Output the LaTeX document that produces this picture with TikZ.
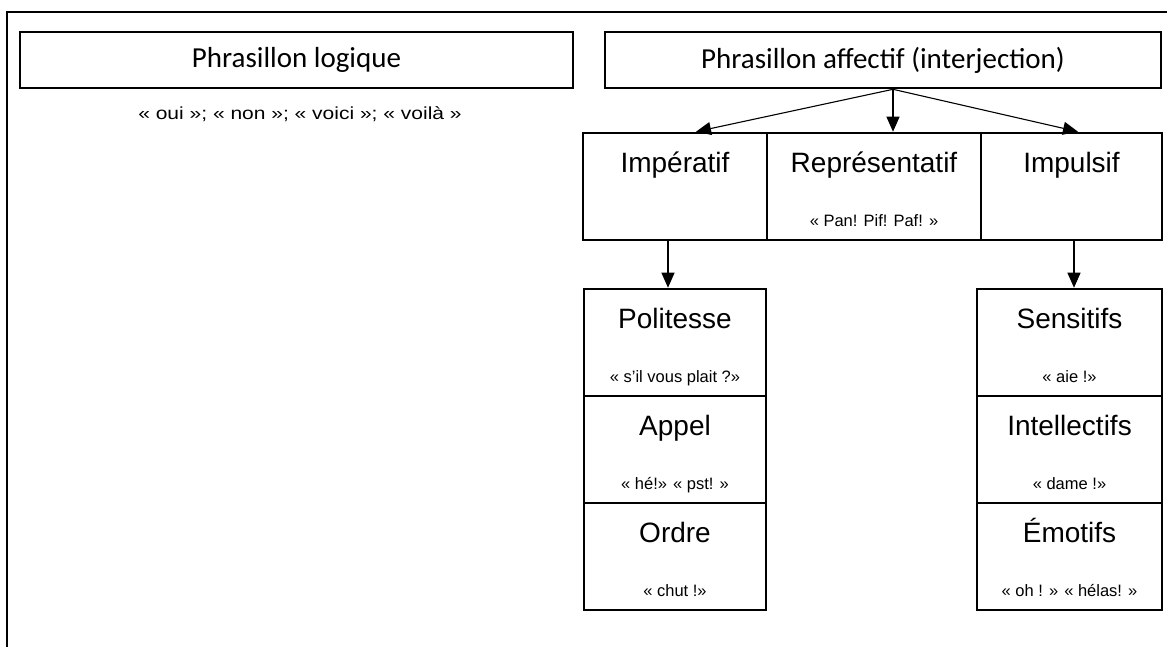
\documentclass[tikz,border=0pt]{standalone}
\usepackage{fontspec}
\usepackage{graphicx}
\setmainfont{Liberation Sans}
\newfontfamily\calibrifont{Carlito}
\usetikzlibrary{arrows.meta}

% text helpers
\newcommand{\headtext}[1]{{\calibrifont\fontsize{29}{33}\selectfont #1}}
\newcommand{\titletext}[1]{{\fontsize{28}{32}\selectfont #1}}
\newcommand{\sampletext}[1]{{\fontsize{16.5}{19}\selectfont #1}}
\newcommand{\listtext}[1]{\scalebox{1.2}[1]{\fontsize{17.5}{20}\selectfont #1}}

\tikzset{
  frame/.style={line width=2.8pt, line cap=rect},
  box/.style={draw, line width=2.6pt, inner sep=0pt, rectangle},
  title/.style={anchor=base, inner sep=0pt},
  arr/.style={line width=1.1pt, -{Triangle[width=13pt,length=15pt]}},
}

\begin{document}
\begin{tikzpicture}[x=1pt,y=-1pt]
\useasboundingbox (0,0) rectangle (1167,646);

% open outer frame
\draw[frame] (1168,12) -- (7,12) -- (7,647);

% heading boxes
\node[box, minimum width=553pt, minimum height=56pt] (log) at (296.5,60) {};
\node[inner sep=0pt] (logT) at (296.5,60) {\headtext{Phrasillon logique}};
\node[title] (logEx) at (300,119) {\listtext{« oui »; « non »; « voici »; « voilà »}};

\node[box, minimum width=556pt, minimum height=56pt] (aff) at (883,60) {};
\node[inner sep=0pt] (affT) at (883,60) {\headtext{Phrasillon affectif (interjection)}};

% second level
\node[box, minimum width=184pt, minimum height=107pt] (imp) at (675,186.5) {};
\node[title] (impT) at (675,172) {\titletext{Impératif}};

\node[box, minimum width=214pt, minimum height=107pt] (rep) at (874,186.5) {};
\node[title] (repT) at (874,172) {\titletext{Représentatif}};
\node[title] (repEx) at (874,226) {\sampletext{« Pan! Pif! Paf! »}};

\node[box, minimum width=181pt, minimum height=107pt] (imu) at (1071.5,186.5) {};
\node[title] (imuT) at (1071.5,172) {\titletext{Impulsif}};

% left column
\node[box, minimum width=182pt, minimum height=107pt] (pol) at (675,342.5) {};
\node[title] (polT) at (675,328) {\titletext{Politesse}};
\node[title] (polEx) at (675,382) {\sampletext{« s’il vous plait ?»}};

\node[box, minimum width=182pt, minimum height=107pt] (app) at (675,449.5) {};
\node[title] (appT) at (675,435) {\titletext{Appel}};
\node[title] (appEx) at (675,489) {\sampletext{« hé!» « pst! »}};

\node[box, minimum width=182pt, minimum height=107pt] (ord) at (675,556.5) {};
\node[title] (ordT) at (675,542) {\titletext{Ordre}};
\node[title] (ordEx) at (675,596) {\sampletext{« chut !»}};

% right column
\node[box, minimum width=185pt, minimum height=107pt] (sen) at (1069.5,342.5) {};
\node[title] (senT) at (1069.5,328) {\titletext{Sensitifs}};
\node[title] (senEx) at (1069.5,382) {\sampletext{« aie !»}};

\node[box, minimum width=185pt, minimum height=107pt] (int) at (1069.5,449.5) {};
\node[title] (intT) at (1069.5,435) {\titletext{Intellectifs}};
\node[title] (intEx) at (1069.5,489) {\sampletext{« dame !»}};

\node[box, minimum width=185pt, minimum height=107pt] (emo) at (1069.5,556.5) {};
\node[title] (emoT) at (1069.5,542) {\titletext{Émotifs}};
\node[title] (emoEx) at (1069.5,596) {\sampletext{« oh ! » « hélas! »}};

% connectors
\draw[arr] ([xshift=10pt]aff.south) -- ([xshift=21pt]imp.north);
\draw[arr] ([xshift=10pt]aff.south) -- ([xshift=19pt]rep.north);
\draw[arr] ([xshift=10pt]aff.south) -- ([xshift=6.5pt]imu.north);
\draw[arr] ([xshift=-7pt]imp.south) -- ([xshift=-7pt]pol.north);
\draw[arr] ([xshift=2.5pt]imu.south) -- ([xshift=4.5pt]sen.north);
\end{tikzpicture}
\end{document}
